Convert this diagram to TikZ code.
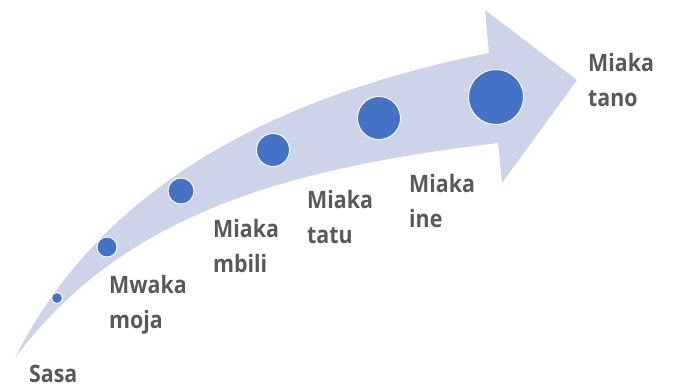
\documentclass[tikz,border=0pt]{standalone}
\usepackage{fontspec}
\setmainfont{Open Sans}[BoldFont={* Bold}, BoldFeatures={FakeStretch=0.89}]
\definecolor{arrowfill}{HTML}{CDD4EA}
\definecolor{dotblue}{HTML}{4472C4}
\definecolor{labelgray}{HTML}{595959}
\tikzset{
  dot/.style={circle, fill=dotblue, draw=white, line width=0.9pt, inner sep=0pt, minimum size=#1},
  lbl/.style={anchor=base west, inner sep=0pt, align=left, text=labelgray,
    font=\fontsize{24}{35}\selectfont\bfseries},
}
\begin{document}
\begin{tikzpicture}[x=1pt,y=-1pt]
\useasboundingbox (0,0) rectangle (675,389);
% arrow
\coordinate (tail) at (15,358);
\coordinate (ut) at (489,53);
\coordinate (hb1) at (485,10);
\coordinate (tip) at (577,80);
\coordinate (hb2) at (502,183);
\coordinate (lt) at (498,143);
\fill[arrowfill] (tail) .. controls (105,178) and (289,93) .. (ut)
  -- (hb1) -- (tip) -- (hb2) -- (lt)
  .. controls (298,167) and (125,209.5) .. (tail) -- cycle;
% dots
\node[dot=11pt] (d0) at (57,298) {};
\node[dot=20pt] (d1) at (107,247) {};
\node[dot=26pt] (d2) at (181,191) {};
\node[dot=33pt] (d3) at (273,150) {};
\node[dot=43pt] (d4) at (379,118) {};
\node[dot=55pt] (d5) at (496,97) {};
% labels (anchored at the baseline of the last line)
\node[lbl] (l0) at (29,382) {Sasa};
\node[lbl] (l1) at (109,328) {Mwaka\\moja};
\node[lbl] (l2) at (213,272) {Miaka\\mbili};
\node[lbl] (l3) at (307,243) {Miaka\\tatu};
\node[lbl] (l4) at (409,227) {Miaka\\ine};
\node[lbl] (l5) at (588,106) {Miaka\\tano};
\end{tikzpicture}
\end{document}
